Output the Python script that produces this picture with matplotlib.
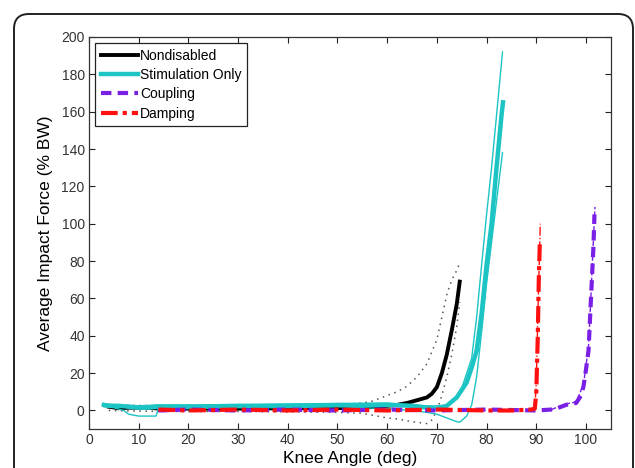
import matplotlib
matplotlib.use("Agg")
import matplotlib.pyplot as plt
from matplotlib.patches import FancyBboxPatch

plt.rcParams['font.family'] = ['Liberation Sans', 'DejaVu Sans']

# Nondisabled: mean and +/- SD (dotted)
nd_x = [4, 6, 8, 10, 12, 14, 20, 30, 40, 50, 55, 58, 60, 62, 64, 66, 68, 69, 70, 71, 72, 73, 74, 74.6]
nd_y = [2, 1.2, 1.5, 1.5, 1.5, 1, 1, 1, 1.2, 1.3, 1.5, 2, 2.5, 3, 4, 5.5, 7, 9, 12.5, 20, 30, 43, 57, 69]
nd_hi_x = [4, 14, 30, 50, 55, 57, 60, 62, 64, 66, 68, 70, 71, 72, 73, 74, 74.6]
nd_hi_y = [3, 2.5, 2.5, 3, 4, 5, 8, 10, 13, 18, 25, 38, 50, 62, 70, 75, 79]
nd_lo_x = [4, 14, 30, 50, 55, 58, 60, 62, 65, 68, 69, 70, 71, 72, 73, 74, 74.6]
nd_lo_y = [0, -0.5, -0.5, -1, -1.5, -3, -4, -4.5, -6, -7, -5, 0, 8, 18, 30, 45, 58]

# Stimulation only: mean and +/- SD (thin)
so_x = [3, 4, 6, 8, 10, 12, 14, 20, 30, 40, 50, 60, 65, 68, 70, 71, 72, 74, 76, 77, 78, 79, 80, 81, 82, 83, 83.3]
so_y = [3, 2.5, 2.5, 2, 1.5, 1.5, 2, 2, 2.5, 2.5, 3, 3, 2.5, 1.5, 1, 1.5, 2.5, 7, 15, 23, 32, 52, 78, 100, 130, 158, 165]
so_hi_x = [3, 6, 10, 14, 20, 30, 40, 50, 60, 65, 68, 70, 72, 74, 75, 76, 77, 78, 79, 80, 81, 82, 83.2]
so_hi_y = [3.5, 3, 2.5, 3, 3, 3, 3.5, 3.5, 4, 3, 2.5, 2.5, 3, 7, 12, 20, 28, 50, 78, 105, 130, 158, 192]
so_lo_x = [3, 5, 7, 8, 10, 12, 13.5, 14, 20, 30, 40, 50, 60, 65, 68, 70, 72, 74, 74.6, 76, 77, 78, 79, 80, 81, 82, 83.2]
so_lo_y = [2, 1.5, 0, -2, -3, -3, -3, 1, 1, 1.5, 1.5, 2, 1, 0, -1, -2, -4, -6, -6.3, -3, 3, 18, 42, 68, 90, 112, 138]

# Coupling
cp_x = [14, 20, 30, 40, 50, 60, 70, 80, 90, 93, 94, 95, 96, 97, 98, 99, 99.5, 100, 100.5, 101, 101.5, 101.7]
cp_y = [0, 0.5, 0, 0.5, 0, 0.5, 0, 0.5, 0, 0.5, 1, 2, 3, 3.5, 4, 8, 13, 22, 32, 60, 88, 105]
cp_hi_x = [93, 96, 98, 99.5, 100.5, 101, 101.5, 101.8]
cp_hi_y = [0.5, 3.5, 4.5, 14, 34, 62, 92, 109]

# Damping
dp_x = [14, 20, 30, 40, 50, 60, 70, 80, 85, 89, 89.7, 90, 90.3, 90.5, 90.7]
dp_y = [0.5, 0, 0.5, 0, 0.5, 0, 0.5, 0, 0, 0.5, 1, 10, 40, 70, 89]
dp_hi_x = [89, 89.7, 90, 90.3, 90.6, 90.8]
dp_hi_y = [0.5, 1, 15, 50, 80, 100]

x_ticks = list(range(0, 101, 10))
y_ticks = list(range(0, 201, 20))

cyan = '#1cc4c4'
purple = '#7a1fe6'
red = '#ff1010'

fig = plt.figure(figsize=(6.35, 4.68), dpi=100)
ax = fig.add_axes([0.140, 0.083, 0.822, 0.838])

ax.plot(nd_hi_x, nd_hi_y, color='#555555', ls=(0, (1, 3)), lw=1.1)
ax.plot(nd_lo_x, nd_lo_y, color='#555555', ls=(0, (1, 3)), lw=1.1)
ax.plot(nd_x, nd_y, color='black', lw=2.8, label='Nondisabled')

ax.plot(so_hi_x, so_hi_y, color=cyan, lw=1.0)
ax.plot(so_lo_x, so_lo_y, color=cyan, lw=1.0)
ax.plot(so_x, so_y, color=cyan, lw=3.2, label='Stimulation Only')

ax.plot(cp_hi_x, cp_hi_y, color=purple, lw=1.0, ls='--')
ax.plot(cp_x, cp_y, color=purple, lw=3.0, ls=(0, (2.5, 1.5)), label='Coupling')

ax.plot(dp_hi_x, dp_hi_y, color=red, lw=1.0, ls='-.')
ax.plot(dp_x, dp_y, color=red, lw=3.0, ls=(0, (4, 1.2, 1, 1.2)), label='Damping')

ax.set_xlim(0, 105)
ax.set_ylim(-10, 200)
ax.set_xticks(x_ticks)
ax.set_yticks(y_ticks)
ax.tick_params(direction='in', top=True, right=True, length=4, width=0.8,
               labelsize=10, colors='#222222', labelcolor='#333333', pad=3)
for s in ax.spines.values():
    s.set_color('#333333')
    s.set_linewidth(0.9)

ax.set_xlabel('Knee Angle (deg)', fontsize=12.5, labelpad=3)
ax.set_ylabel('Average Impact Force (% BW)', fontsize=12.5, labelpad=6)

leg = ax.legend(loc='upper left', fontsize=10, frameon=True, fancybox=False,
                edgecolor='#222222', framealpha=1, handlelength=2.7,
                handletextpad=0.15, labelspacing=0.38, borderaxespad=0.45,
                borderpad=0.4)
leg.get_frame().set_linewidth(0.9)

# rounded border around the whole panel
frame = FancyBboxPatch((0.14, -0.5), 6.19, 5.04,
                       boxstyle='round,pad=0,rounding_size=0.15',
                       transform=fig.dpi_scale_trans, fill=False,
                       edgecolor='#222222', linewidth=1.4, clip_on=False)
fig.patches.append(frame)

fig.savefig('out.png', dpi=100)
